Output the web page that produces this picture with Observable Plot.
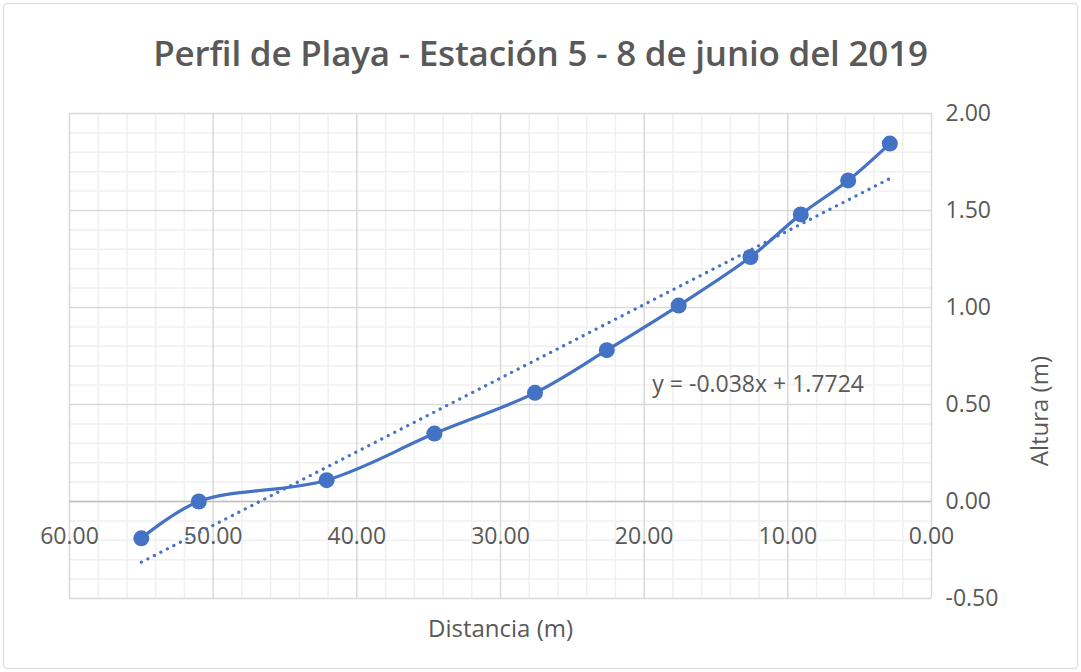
<!DOCTYPE html>
<html>
<head>
<meta charset="utf-8">
<script src="https://cdn.jsdelivr.net/npm/d3@7"></script>
<script src="https://cdn.jsdelivr.net/npm/@observablehq/plot@0.6"></script>
<style>
  html, body { margin: 0; padding: 0; background: #fff; }
  #wrap { position: relative; width: 1081px; height: 672px; overflow: hidden; background: #fff; }
  #frame { position: absolute; left: 3px; top: 3px; right: 3px; bottom: 3px; border: 1px solid #d9d9d9; border-radius: 4px; pointer-events: none; }
  #title { height: 100px; line-height: 106px; text-align: center; font-family: "Open Sans", sans-serif; font-weight: 600; font-size: 35px; color: #595959; white-space: nowrap; letter-spacing: -0.2px; }
  svg { display: block; overflow: visible; }
</style>
</head>
<body>
<div id="wrap">
  <div id="frame"></div>
  <div id="title">Perfil de Playa - Estación 5 - 8 de junio del 2019</div>
  <div id="chart"></div>
</div>
<script>
// Distance from reference point (m) and height (m)
const distancia = [55.0, 51.0, 42.1, 34.6, 27.6, 22.6, 17.6, 12.6, 9.1, 5.8, 2.9];
const altura    = [-0.19, 0.00, 0.11, 0.35, 0.56, 0.78, 1.01, 1.26, 1.48, 1.655, 1.845];
const xTicks = [60, 50, 40, 30, 20, 10, 0];
const yTicks = [-0.5, 0, 0.5, 1.0, 1.5, 2.0];
const equationText = "y = -0.038x + 1.7724";
const xLabel = "Distancia (m)";
const yLabel = "Altura (m)";

const data = distancia.map((d, i) => ({x: d, y: altura[i]}));
const xMinor = d3.range(0, 61, 2).filter(v => v % 10 !== 0);
const yMinor = d3.range(-5, 21, 1).map(v => v / 10).filter(v => Math.abs(Math.round(v * 10) % 5) !== 0);

const blue = "#4472C4";
const grey = "#595959";
const font = "'Open Sans', sans-serif";

const chart = Plot.plot({
  width: 1081,
  height: 572,
  marginLeft: 69,
  marginRight: 150,
  marginTop: 13,
  marginBottom: 74,
  style: {fontFamily: font, fontSize: "23px", color: grey, background: "transparent", overflow: "visible"},
  x: {domain: [60, 0], axis: null},
  y: {domain: [-0.5, 2.0], axis: null},
  marks: [
    Plot.ruleX(xMinor, {stroke: "#f0f0f0", strokeWidth: 1.5}),
    Plot.ruleY(yMinor, {stroke: "#f0f0f0", strokeWidth: 1.5}),
    Plot.ruleX(xTicks, {stroke: "#d9d9d9", strokeWidth: 1.5}),
    Plot.ruleY(yTicks, {stroke: "#d9d9d9", strokeWidth: 1.5}),
    Plot.ruleY([0], {stroke: "#bfbfbf", strokeWidth: 1.5}),
    Plot.axisY(yTicks, {anchor: "right", tickSize: 0, tickPadding: 14, tickFormat: d => d.toFixed(2), label: null, fontSize: 23, fill: grey, textAnchor: "start"}),
    Plot.text(xTicks, {x: d => d, y: 0, dy: 35, text: d => d.toFixed(2), fontSize: 23, fill: grey}),
    Plot.text([xLabel], {frameAnchor: "bottom", dy: 38, fontSize: 24, fill: grey}),
    Plot.text([yLabel], {frameAnchor: "right", dx: 109, rotate: -90, fontSize: 24, fill: grey}),
    Plot.linearRegressionY(data, {x: "x", y: "y", ci: 0, stroke: blue, strokeWidth: 3.2, strokeDasharray: "0.1 7.2", strokeLinecap: "round"}),
    Plot.line(data, {x: "x", y: "y", curve: "catmull-rom", stroke: blue, strokeWidth: 3.2}),
    Plot.dot(data, {x: "x", y: "y", r: 8, fill: blue, stroke: "none"}),
    Plot.text([equationText], {x: 19.43, y: 0.6, text: d => d, textAnchor: "start", fontSize: 23, fill: grey})
  ]
});
document.getElementById("chart").appendChild(chart);
</script>
</body>
</html>
